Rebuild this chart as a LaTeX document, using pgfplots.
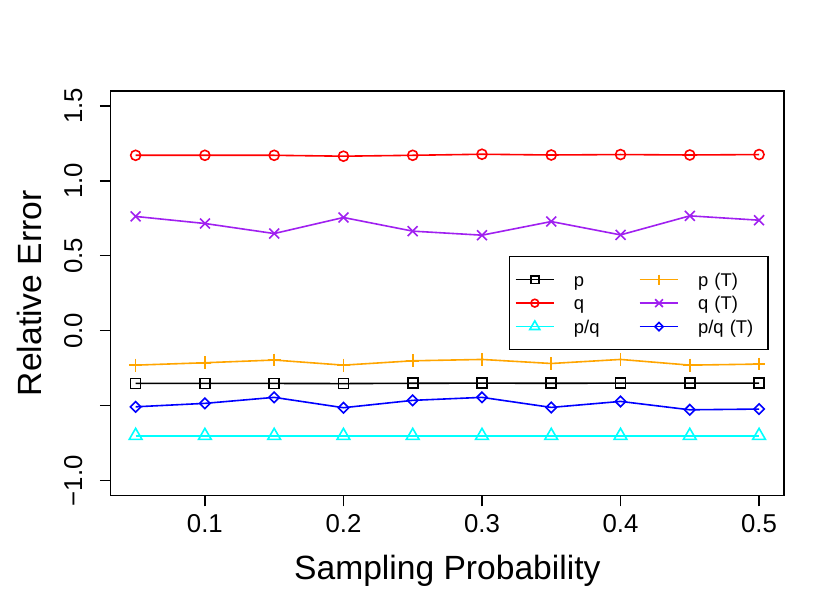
\documentclass[border=0pt]{standalone}
\usepackage{fontspec}
\setmainfont{Liberation Sans}
\usepackage{pgfplots}
\pgfplotsset{compat=1.18}
\definecolor{rorange}{RGB}{255,165,0}
\definecolor{rpurple}{RGB}{160,32,240}
\definecolor{rcyan}{RGB}{0,255,255}
\definecolor{rred}{RGB}{255,0,0}
\definecolor{rblue}{RGB}{0,0,255}
\begin{document}
\begin{tikzpicture}
\begin{axis}[
  at={(0pt,0pt)}, anchor=south west,
  scale only axis, width=336.65pt, height=202.35pt,
  xmin=0.032, xmax=0.518, ymin=-1.1, ymax=1.6,
  axis line style={line width=0.75pt},
  tick align=outside, major tick length=5.4pt,
  xtick pos=left, ytick pos=left,
  every tick/.style={black, line width=0.6pt},
  xtick={0.1,0.2,0.3,0.4,0.5}, xticklabels={0.1,0.2,0.3,0.4,0.5},
  ytick={-1,-0.5,0,0.5,1,1.5}, yticklabels={−1.0,,0.0,0.5,1.0,1.5},
  ticklabel style={font=\fontsize{12.9}{14}\selectfont, inner sep=0pt},
  xticklabel style={anchor=base}, xticklabel shift=13.15pt,
  yticklabel style={rotate=90, anchor=base}, yticklabel shift=8.85pt,
  xlabel={Sampling Probability}, ylabel={Relative Error},
  label style={font=\fontsize{16.8}{20}\selectfont},
  xlabel style={at={(axis description cs:0.5,-0.2083)}, anchor=base},
  ylabel style={at={(axis description cs:-0.1025,0.5)}, anchor=base},
  every axis plot/.append style={line width=0.8pt},
  legend columns=2,
  legend style={at={(axis description cs:0.5916,0.5923)}, anchor=north west,
    draw=black, line width=0.7pt, inner xsep=2.5pt, inner ysep=5.6pt, row sep=0pt,
    font=\fontsize{9.2}{10}\selectfont,
    nodes={inner sep=0pt, text height=9.075pt, text depth=2.675pt, text width=32.5pt, align=left, anchor=west},
    /tikz/every odd column/.append style={column sep=9.5pt},
    /tikz/every even column/.append style={column sep=0pt}},
  legend image code/.code={%
    \draw[line width=0.8pt, #1, mark=none] (0pt,0pt) -- (19.3pt,0pt);
    \draw[line width=0.8pt, #1, every mark/.append style={scale=0.78}] plot coordinates {(9.65pt,0pt)};},
]
% p
\addplot[black, mark=square, mark size=2.5pt] coordinates {
(0.05,-0.351) (0.10,-0.351) (0.15,-0.351) (0.20,-0.352) (0.25,-0.350)
(0.30,-0.349) (0.35,-0.350) (0.40,-0.349) (0.45,-0.349) (0.50,-0.349)};
\addlegendentry{p}
% p (T)
\addplot[rorange, mark=+, mark size=3.2pt] coordinates {
(0.05,-0.229) (0.10,-0.213) (0.15,-0.195) (0.20,-0.229) (0.25,-0.200)
(0.30,-0.191) (0.35,-0.218) (0.40,-0.191) (0.45,-0.229) (0.50,-0.222)};
\addlegendentry{p (T)}
% q
\addplot[rred, mark=o, mark size=2.5pt] coordinates {
(0.05,1.171) (0.10,1.171) (0.15,1.171) (0.20,1.165) (0.25,1.171)
(0.30,1.178) (0.35,1.173) (0.40,1.176) (0.45,1.173) (0.50,1.176)};
\addlegendentry{q}
% q (T)
\addplot[rpurple, mark=x, mark size=3.5pt] coordinates {
(0.05,0.763) (0.10,0.716) (0.15,0.649) (0.20,0.756) (0.25,0.665)
(0.30,0.638) (0.35,0.729) (0.40,0.640) (0.45,0.767) (0.50,0.738)};
\addlegendentry{q (T)}
% p/q
\addplot[rcyan, mark=triangle, mark size=3.7pt] coordinates {
(0.05,-0.700) (0.10,-0.700) (0.15,-0.700) (0.20,-0.700) (0.25,-0.700)
(0.30,-0.700) (0.35,-0.700) (0.40,-0.700) (0.45,-0.700) (0.50,-0.700)};
\addlegendentry{p/q}
% p/q (T)
\addplot[rblue, mark=square, mark size=1.85pt, mark options={rotate=45}] coordinates {
(0.05,-0.507) (0.10,-0.484) (0.15,-0.444) (0.20,-0.513) (0.25,-0.464)
(0.30,-0.444) (0.35,-0.511) (0.40,-0.471) (0.45,-0.527) (0.50,-0.522)};
\addlegendentry{p/q (T)}
\end{axis}
\pgfresetboundingbox
\path[use as bounding box] (-55.35pt,-56.65pt) rectangle (359.65pt,247.85pt);
\end{tikzpicture}
\end{document}
